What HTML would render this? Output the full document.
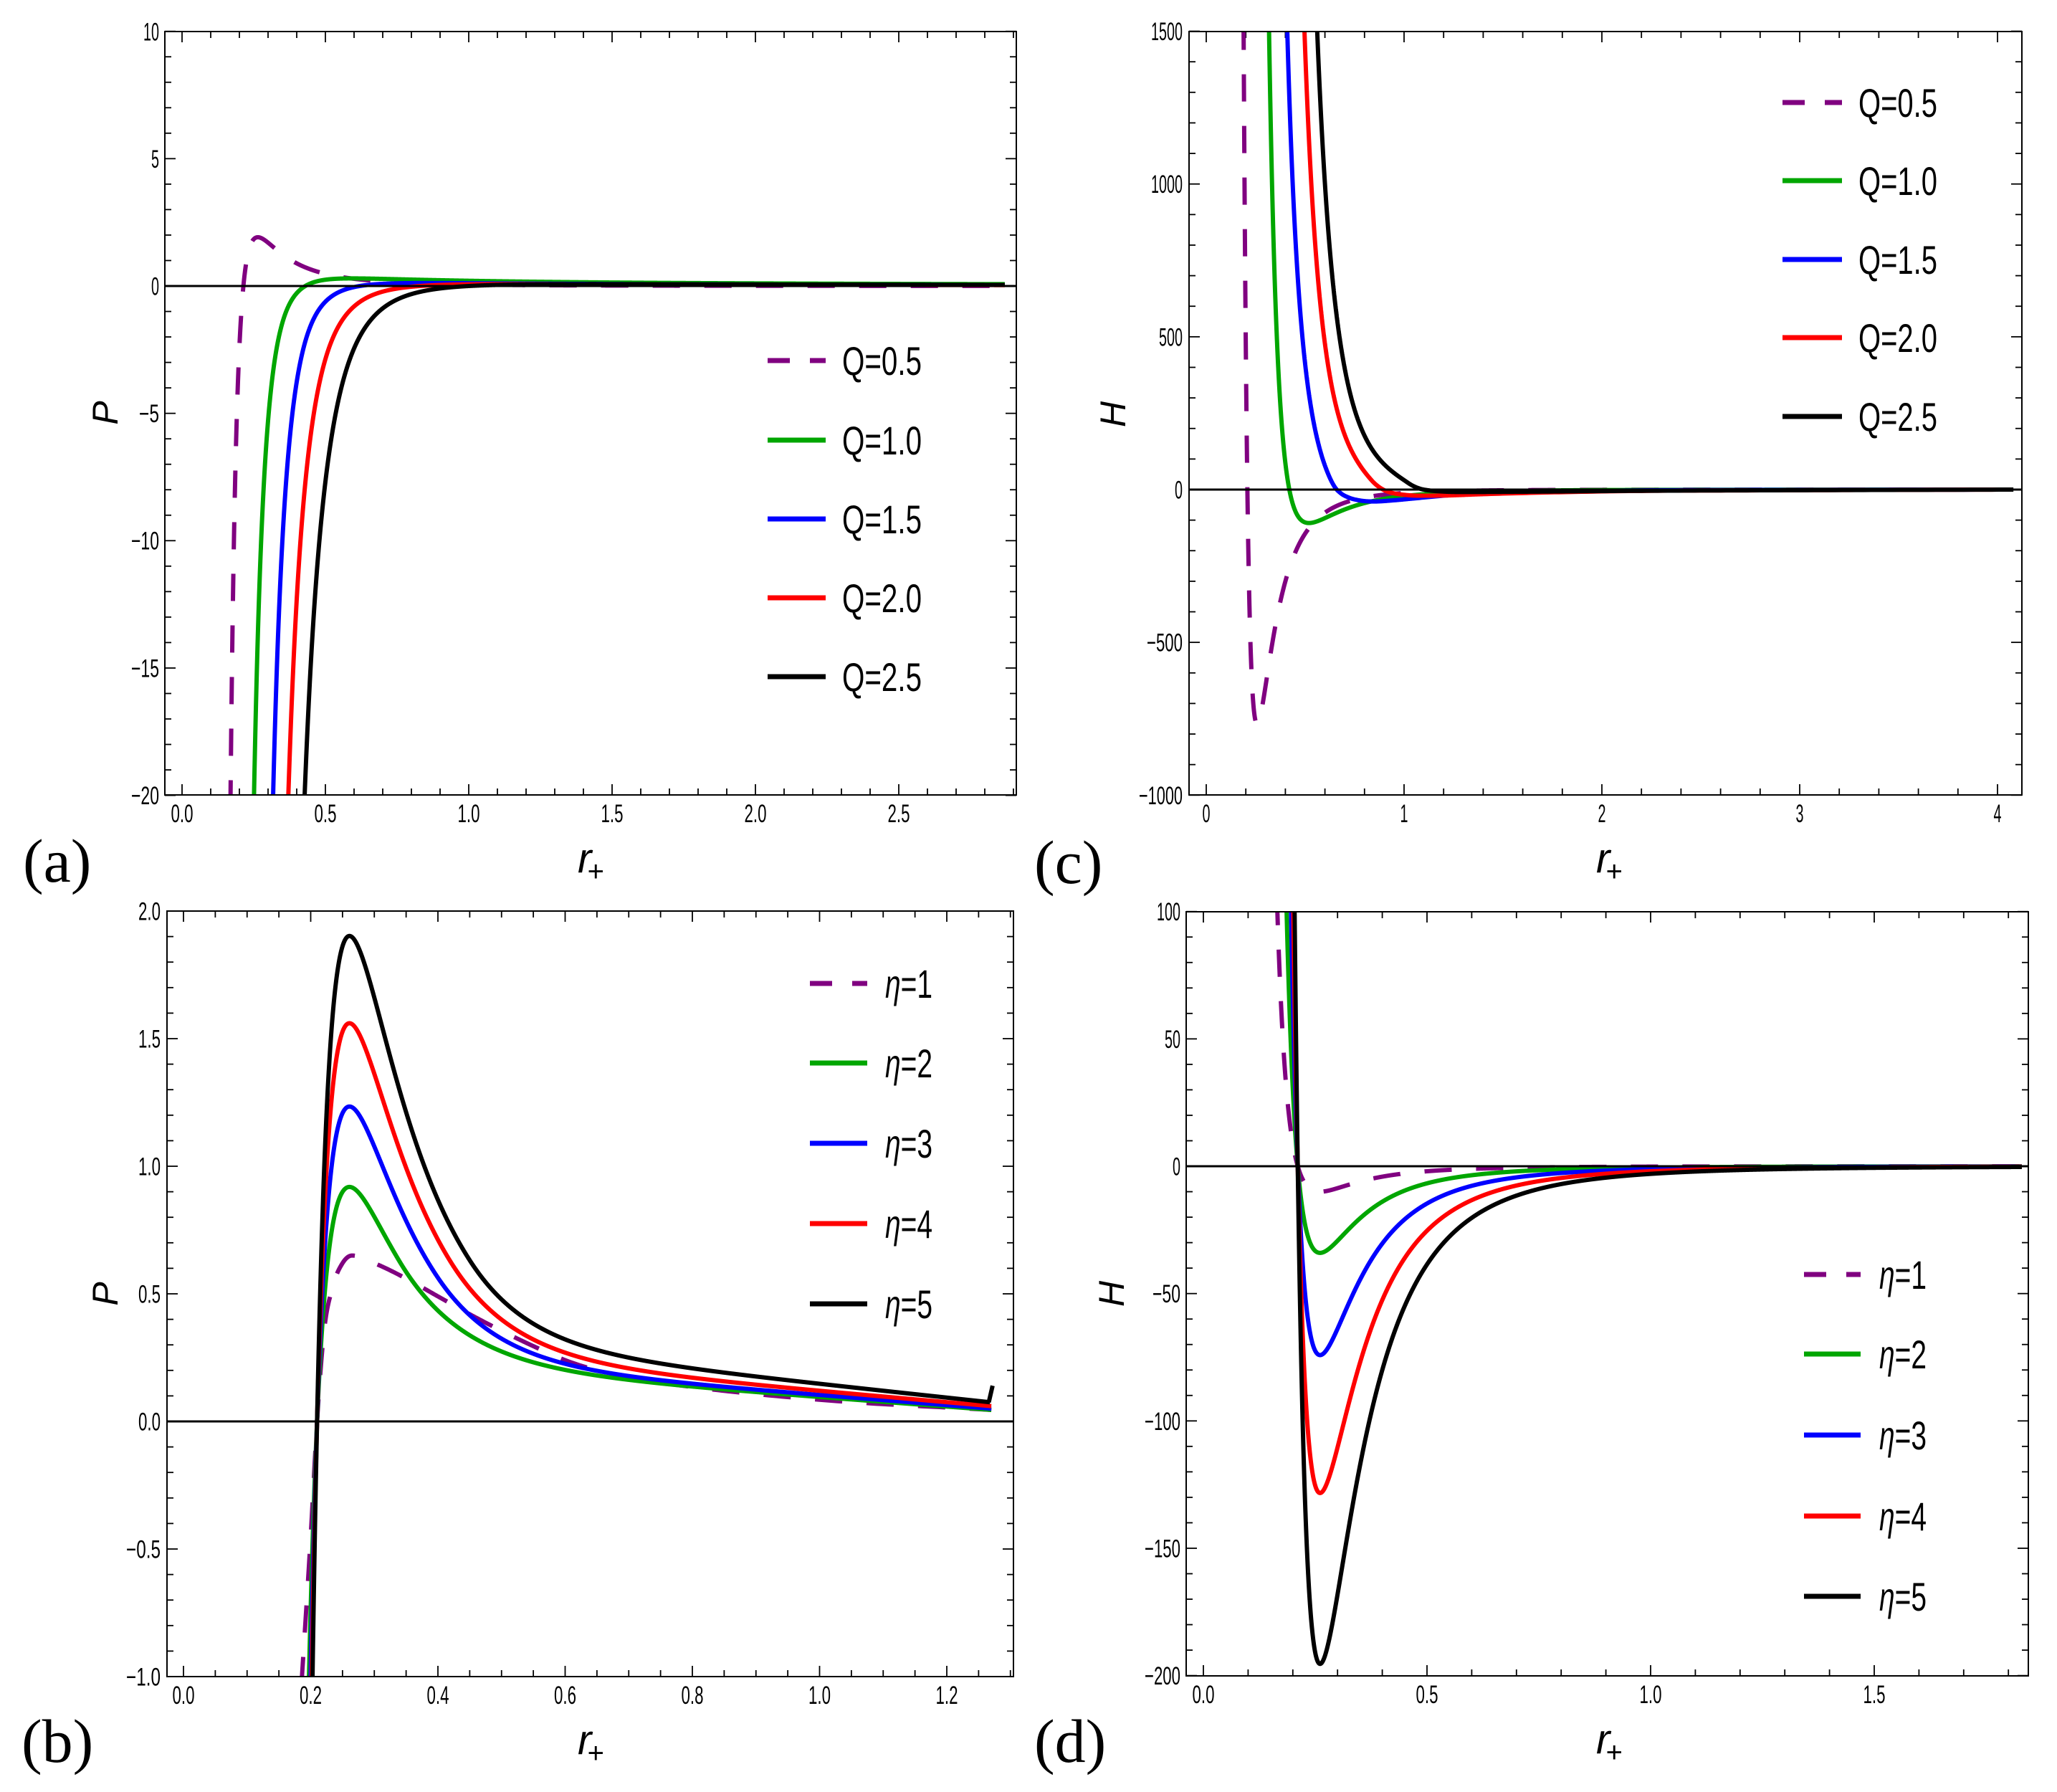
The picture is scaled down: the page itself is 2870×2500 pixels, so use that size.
<!DOCTYPE html>
<html><head><meta charset="utf-8">
<style>
html,body{margin:0;padding:0;background:#fff;width:2870px;height:2500px;overflow:hidden;}
svg{display:block;position:absolute;left:0;top:0;}
.t{font-family:"Liberation Sans",Arial,sans-serif;font-size:35px;fill:#000;}
.lg{font-family:"Liberation Sans",Arial,sans-serif;font-size:56px;fill:#000;}
.ax{font-family:"Liberation Sans",Arial,sans-serif;font-size:50px;font-style:italic;fill:#000;}
.pl{font-family:"Liberation Serif","Times New Roman",serif;font-size:86px;fill:#000;}
.r{font-family:"Liberation Sans",Arial,sans-serif;font-style:italic;fill:#000;}
</style>
</head><body>
<svg id="s" width="2870" height="2500" viewBox="0 0 2870 2500" xmlns="http://www.w3.org/2000/svg">
<rect width="2870" height="2500" fill="#fff"/>
<defs>
<clipPath id="ca"><rect x="230" y="44" width="1188" height="1065"/></clipPath>
<clipPath id="cc"><rect x="1659" y="44" width="1162" height="1065"/></clipPath>
<clipPath id="cb"><rect x="233" y="1271" width="1181" height="1068"/></clipPath>
<clipPath id="cd"><rect x="1655" y="1272" width="1175" height="1066"/></clipPath>
</defs>
<g id="ticks" stroke="#000" stroke-width="1.8"></g>
<g id="curves"></g>
<!-- zero lines -->
<line x1="230" y1="399" x2="1418" y2="399" stroke="#000" stroke-width="3"/>
<line x1="1659" y1="683" x2="2821" y2="683" stroke="#000" stroke-width="3"/>
<line x1="233" y1="1983" x2="1414" y2="1983" stroke="#000" stroke-width="3"/>
<line x1="1655" y1="1627" x2="2830" y2="1627" stroke="#000" stroke-width="3"/>
<!-- frames -->
<g fill="none" stroke="#000" stroke-width="2">
<rect x="230" y="44" width="1188" height="1065"/>
<rect x="1659" y="44" width="1162" height="1065"/>
<rect x="233" y="1271" width="1181" height="1068"/>
<rect x="1655" y="1272" width="1175" height="1066"/>
</g>

<g class="t">
<!-- (a) tick labels -->
<text x="200" y="56.5" textLength="22" lengthAdjust="spacingAndGlyphs">10</text>
<text x="211" y="234" textLength="11" lengthAdjust="spacingAndGlyphs">5</text>
<text x="211" y="411.5" textLength="11" lengthAdjust="spacingAndGlyphs">0</text>
<text x="194" y="589" textLength="28" lengthAdjust="spacingAndGlyphs">−5</text>
<text x="183" y="766.5" textLength="39" lengthAdjust="spacingAndGlyphs">−10</text>
<text x="183" y="944.5" textLength="39" lengthAdjust="spacingAndGlyphs">−15</text>
<text x="183" y="1122" textLength="39" lengthAdjust="spacingAndGlyphs">−20</text>
<text x="238.5" y="1147" textLength="31" lengthAdjust="spacingAndGlyphs">0.0</text>
<text x="438.5" y="1147" textLength="31" lengthAdjust="spacingAndGlyphs">0.5</text>
<text x="638.5" y="1147" textLength="31" lengthAdjust="spacingAndGlyphs">1.0</text>
<text x="838.5" y="1147" textLength="31" lengthAdjust="spacingAndGlyphs">1.5</text>
<text x="1038.5" y="1147" textLength="31" lengthAdjust="spacingAndGlyphs">2.0</text>
<text x="1238.5" y="1147" textLength="31" lengthAdjust="spacingAndGlyphs">2.5</text>

<!-- (c) tick labels -->
<text x="1606" y="56" textLength="44" lengthAdjust="spacingAndGlyphs">1500</text>
<text x="1606" y="269" textLength="44" lengthAdjust="spacingAndGlyphs">1000</text>
<text x="1617" y="482.5" textLength="33" lengthAdjust="spacingAndGlyphs">500</text>
<text x="1639" y="695.5" textLength="11" lengthAdjust="spacingAndGlyphs">0</text>
<text x="1600" y="908.5" textLength="50" lengthAdjust="spacingAndGlyphs">−500</text>
<text x="1589" y="1122" textLength="61" lengthAdjust="spacingAndGlyphs">−1000</text>
<text x="1677.5" y="1147" textLength="11" lengthAdjust="spacingAndGlyphs">0</text>
<text x="1953.5" y="1147" textLength="11" lengthAdjust="spacingAndGlyphs">1</text>
<text x="2229.5" y="1147" textLength="11" lengthAdjust="spacingAndGlyphs">2</text>
<text x="2505.5" y="1147" textLength="11" lengthAdjust="spacingAndGlyphs">3</text>
<text x="2781.5" y="1147" textLength="11" lengthAdjust="spacingAndGlyphs">4</text>

<!-- (b) tick labels -->
<text x="193" y="1283.5" textLength="31" lengthAdjust="spacingAndGlyphs">2.0</text>
<text x="193" y="1461.5" textLength="31" lengthAdjust="spacingAndGlyphs">1.5</text>
<text x="193" y="1639.5" textLength="31" lengthAdjust="spacingAndGlyphs">1.0</text>
<text x="193" y="1817.5" textLength="31" lengthAdjust="spacingAndGlyphs">0.5</text>
<text x="193" y="1995.5" textLength="31" lengthAdjust="spacingAndGlyphs">0.0</text>
<text x="176" y="2173.5" textLength="48" lengthAdjust="spacingAndGlyphs">−0.5</text>
<text x="176" y="2351.5" textLength="48" lengthAdjust="spacingAndGlyphs">−1.0</text>
<text x="240.5" y="2377" textLength="31" lengthAdjust="spacingAndGlyphs">0.0</text>
<text x="418" y="2377" textLength="31" lengthAdjust="spacingAndGlyphs">0.2</text>
<text x="595.5" y="2377" textLength="31" lengthAdjust="spacingAndGlyphs">0.4</text>
<text x="773" y="2377" textLength="31" lengthAdjust="spacingAndGlyphs">0.6</text>
<text x="950.5" y="2377" textLength="31" lengthAdjust="spacingAndGlyphs">0.8</text>
<text x="1128" y="2377" textLength="31" lengthAdjust="spacingAndGlyphs">1.0</text>
<text x="1305.5" y="2377" textLength="31" lengthAdjust="spacingAndGlyphs">1.2</text>

<!-- (d) tick labels -->
<text x="1614" y="1284" textLength="33" lengthAdjust="spacingAndGlyphs">100</text>
<text x="1625" y="1462" textLength="22" lengthAdjust="spacingAndGlyphs">50</text>
<text x="1636" y="1639.5" textLength="11" lengthAdjust="spacingAndGlyphs">0</text>
<text x="1608" y="1817" textLength="39" lengthAdjust="spacingAndGlyphs">−50</text>
<text x="1597" y="1995" textLength="50" lengthAdjust="spacingAndGlyphs">−100</text>
<text x="1597" y="2172.5" textLength="50" lengthAdjust="spacingAndGlyphs">−150</text>
<text x="1597" y="2350" textLength="50" lengthAdjust="spacingAndGlyphs">−200</text>
<text x="1663.5" y="2376" textLength="31" lengthAdjust="spacingAndGlyphs">0.0</text>
<text x="1975.5" y="2376" textLength="31" lengthAdjust="spacingAndGlyphs">0.5</text>
<text x="2287.5" y="2376" textLength="31" lengthAdjust="spacingAndGlyphs">1.0</text>
<text x="2599.5" y="2376" textLength="31" lengthAdjust="spacingAndGlyphs">1.5</text>
</g>

<!-- axis labels -->
<text class="ax" transform="translate(146,576) rotate(-90)" x="0" y="18" text-anchor="middle">P</text>
<text class="ax" transform="translate(146,1805) rotate(-90)" x="0" y="18" text-anchor="middle">P</text>
<text class="ax" transform="translate(1552,578) rotate(-90)" x="0" y="18" text-anchor="middle">H</text>
<text class="ax" transform="translate(1550,1805) rotate(-90)" x="0" y="18" text-anchor="middle">H</text>

<text class="r" x="806" y="1217" font-size="58">r</text><text class="r" x="819" y="1229" font-size="40">+</text>
<text class="r" x="2227" y="1217" font-size="58">r</text><text class="r" x="2240" y="1229" font-size="40">+</text>
<text class="r" x="806" y="2447" font-size="58">r</text><text class="r" x="819" y="2459" font-size="40">+</text>
<text class="r" x="2227" y="2446" font-size="58">r</text><text class="r" x="2240" y="2458" font-size="40">+</text>

<!-- panel labels -->
<text class="pl" x="32" y="1230">(a)</text>
<text class="pl" x="1443" y="1232">(c)</text>
<text class="pl" x="30" y="2458">(b)</text>
<text class="pl" x="1443" y="2458">(d)</text>

<!-- legends -->
<g stroke-width="7" fill="none">
<line x1="1071" y1="503" x2="1152" y2="503" stroke="#800080" stroke-dasharray="31 28"/>
<line x1="1071" y1="614" x2="1152" y2="614" stroke="#00a600"/>
<line x1="1071" y1="724" x2="1152" y2="724" stroke="#0000ff"/>
<line x1="1071" y1="834" x2="1152" y2="834" stroke="#ff0000"/>
<line x1="1071" y1="944" x2="1152" y2="944" stroke="#000"/>

<line x1="2487" y1="143" x2="2570" y2="143" stroke="#800080" stroke-dasharray="31 28"/>
<line x1="2487" y1="252" x2="2570" y2="252" stroke="#00a600"/>
<line x1="2487" y1="362" x2="2570" y2="362" stroke="#0000ff"/>
<line x1="2487" y1="471" x2="2570" y2="471" stroke="#ff0000"/>
<line x1="2487" y1="581" x2="2570" y2="581" stroke="#000"/>

<line x1="1130" y1="1372" x2="1210" y2="1372" stroke="#800080" stroke-dasharray="31 28"/>
<line x1="1130" y1="1483" x2="1210" y2="1483" stroke="#00a600"/>
<line x1="1130" y1="1595" x2="1210" y2="1595" stroke="#0000ff"/>
<line x1="1130" y1="1707" x2="1210" y2="1707" stroke="#ff0000"/>
<line x1="1130" y1="1819" x2="1210" y2="1819" stroke="#000"/>

<line x1="2517" y1="1778" x2="2596" y2="1778" stroke="#800080" stroke-dasharray="31 28"/>
<line x1="2517" y1="1889" x2="2596" y2="1889" stroke="#00a600"/>
<line x1="2517" y1="2002" x2="2596" y2="2002" stroke="#0000ff"/>
<line x1="2517" y1="2115" x2="2596" y2="2115" stroke="#ff0000"/>
<line x1="2517" y1="2227" x2="2596" y2="2227" stroke="#000"/>
</g>
<g class="lg">
<text x="1175" y="523" textLength="111" lengthAdjust="spacingAndGlyphs">Q=0.5</text>
<text x="1175" y="634" textLength="111" lengthAdjust="spacingAndGlyphs">Q=1.0</text>
<text x="1175" y="744" textLength="111" lengthAdjust="spacingAndGlyphs">Q=1.5</text>
<text x="1175" y="854" textLength="111" lengthAdjust="spacingAndGlyphs">Q=2.0</text>
<text x="1175" y="964" textLength="111" lengthAdjust="spacingAndGlyphs">Q=2.5</text>

<text x="2593" y="163" textLength="110" lengthAdjust="spacingAndGlyphs">Q=0.5</text>
<text x="2593" y="272" textLength="110" lengthAdjust="spacingAndGlyphs">Q=1.0</text>
<text x="2593" y="382" textLength="110" lengthAdjust="spacingAndGlyphs">Q=1.5</text>
<text x="2593" y="491" textLength="110" lengthAdjust="spacingAndGlyphs">Q=2.0</text>
<text x="2593" y="601" textLength="110" lengthAdjust="spacingAndGlyphs">Q=2.5</text>

<text x="1235" y="1392" textLength="66" lengthAdjust="spacingAndGlyphs"><tspan font-style="italic">η</tspan>=1</text>
<text x="1235" y="1503" textLength="66" lengthAdjust="spacingAndGlyphs"><tspan font-style="italic">η</tspan>=2</text>
<text x="1235" y="1615" textLength="66" lengthAdjust="spacingAndGlyphs"><tspan font-style="italic">η</tspan>=3</text>
<text x="1235" y="1727" textLength="66" lengthAdjust="spacingAndGlyphs"><tspan font-style="italic">η</tspan>=4</text>
<text x="1235" y="1839" textLength="66" lengthAdjust="spacingAndGlyphs"><tspan font-style="italic">η</tspan>=5</text>

<text x="2622" y="1798" textLength="66" lengthAdjust="spacingAndGlyphs"><tspan font-style="italic">η</tspan>=1</text>
<text x="2622" y="1909" textLength="66" lengthAdjust="spacingAndGlyphs"><tspan font-style="italic">η</tspan>=2</text>
<text x="2622" y="2022" textLength="66" lengthAdjust="spacingAndGlyphs"><tspan font-style="italic">η</tspan>=3</text>
<text x="2622" y="2135" textLength="66" lengthAdjust="spacingAndGlyphs"><tspan font-style="italic">η</tspan>=4</text>
<text x="2622" y="2247" textLength="66" lengthAdjust="spacingAndGlyphs"><tspan font-style="italic">η</tspan>=5</text>
</g>
</svg>
<script>
(function(){
var NS='http://www.w3.org/2000/svg';
function el(tag,attrs,parent){var e=document.createElementNS(NS,tag);for(var k in attrs)e.setAttribute(k,attrs[k]);parent.appendChild(e);return e;}
var tg=document.getElementById('ticks');
var cg=document.getElementById('curves');
var P={
 a:{L:230,R:1418,T:44,B:1109,X0:254,sx:400,Y0:399,sy:35.53,xmaj:0.5,xmin:0.1,ymaj:5,ymin:1,clip:'ca'},
 c:{L:1659,R:2821,T:44,B:1109,X0:1683,sx:276,Y0:683,sy:0.4263,xmaj:1,xmin:0.2,ymaj:500,ymin:100,clip:'cc'},
 b:{L:233,R:1414,T:1271,B:2339,X0:256,sx:887.5,Y0:1983,sy:356,xmaj:0.2,xmin:0.05,ymaj:0.5,ymin:0.1,clip:'cb'},
 d:{L:1655,R:2830,T:1272,B:2338,X0:1679,sx:624,Y0:1627,sy:3.553,xmaj:0.5,xmin:0.1,ymaj:50,ymin:10,clip:'cd'}
};
function isMaj(v,m){var q=v/m;return Math.abs(q-Math.round(q))<1e-6;}
for(var key in P){
 var p=P[key];
 var xL=(p.L-p.X0)/p.sx,xR=(p.R-p.X0)/p.sx;
 var i0=Math.ceil(xL/p.xmin-0.02),i1=Math.floor(xR/p.xmin+0.02);
 for(var i=i0;i<=i1;i++){
  var v=i*p.xmin,x=p.X0+v*p.sx,len=isMaj(v,p.xmaj)?15:9;
  el('line',{x1:x,y1:p.B,x2:x,y2:p.B-len},tg);
  el('line',{x1:x,y1:p.T,x2:x,y2:p.T+len},tg);
 }
 var yB=(p.Y0-p.B)/p.sy,yT=(p.Y0-p.T)/p.sy;
 var j0=Math.ceil(yB/p.ymin-0.02),j1=Math.floor(yT/p.ymin+0.02);
 for(var j=j0;j<=j1;j++){
  var w=j*p.ymin,y=p.Y0-w*p.sy,ln=isMaj(w,p.ymaj)?15:9;
  el('line',{x1:p.L,y1:y,x2:p.L+ln,y2:y},tg);
  el('line',{x1:p.R,y1:y,x2:p.R-ln,y2:y},tg);
 }
}
function clampY(y,p){if(!isFinite(y))return y>0?p.B+10:p.T-10;return Math.max(p.T-10,Math.min(p.B+10,y));}
function clampX(x,p){return Math.max(p.L-10,Math.min(p.R+10,x));}
function fpath(p,f,r0,r1,N){
 var d='';
 for(var i=0;i<=N;i++){
  var r=r0+(r1-r0)*i/N;
  var x=clampX(p.X0+r*p.sx,p),y=clampY(p.Y0-f(r)*p.sy,p);
  d+=(i?'L':'M')+x.toFixed(2)+' '+y.toFixed(2);
 }
 return d;
}
function gen(f,r0,r1,step){
 var out=[];var n=Math.round((r1-r0)/step);
 for(var i=0;i<=n;i++){var r=r0+i*step;out.push([r,f(r)]);}
 return out;
}
// smooth cubic Hermite interpolation (three-point slopes, limited)
function splinePath(p,pts,seg){
 seg=seg||30;
 var n=pts.length,xs=[],ys=[],h=[],dl=[],m=[];
 for(var i=0;i<n;i++){xs.push(pts[i][0]);ys.push(pts[i][1]);}
 for(var i=0;i<n-1;i++){h.push(xs[i+1]-xs[i]);dl.push((ys[i+1]-ys[i])/h[i]);}
 m[0]=dl[0];m[n-1]=dl[n-2];
 for(var k=1;k<n-1;k++){
  if(dl[k-1]*dl[k]<=0){m[k]=0;}
  else{
   var s=(h[k]*dl[k-1]+h[k-1]*dl[k])/(h[k-1]+h[k]);
   var lim=3*Math.min(Math.abs(dl[k-1]),Math.abs(dl[k]));
   if(Math.abs(s)>lim)s=(s>0?1:-1)*lim;
   m[k]=s;
  }
 }
 var d='';
 for(var i=0;i<n-1;i++){
  for(var j=(i?1:0);j<=seg;j++){
   var t=j/seg,hh=h[i];
   var h00=2*t*t*t-3*t*t+1,h10=t*t*t-2*t*t+t,h01=-2*t*t*t+3*t*t,h11=t*t*t-t*t;
   var yv=h00*ys[i]+h10*hh*m[i]+h01*ys[i+1]+h11*hh*m[i+1];
   var xv=xs[i]+t*hh;
   var X=clampX(p.X0+xv*p.sx,p),Y=clampY(p.Y0-yv*p.sy,p);
   d+=(d?'L':'M')+X.toFixed(2)+' '+Y.toFixed(2);
  }
 }
 return d;
}
var COL={pu:'#800080',gr:'#00a600',bl:'#0000ff',re:'#ff0000',bk:'#000000'};
function draw(p,d,col,dash){
 var g=el('g',{'clip-path':'url(#'+p.clip+')'},cg);
 var a={d:d,fill:'none',stroke:col,'stroke-width':6,'stroke-linejoin':'round'};
 if(dash)a['stroke-dasharray']='38 34';
 el('path',a,g);
}
// Panel (a): P = b r^-k (1-(r0/r)^m)
function fa(b,k,m,r0){return function(r){return b*Math.pow(r,-k)*(1-Math.pow(r0/r,m));};}
var pa=P.a;
draw(pa,fpath(pa,fa(0.062,3,4,0.214),0.15,2.87,5000),COL.pu,true);
draw(pa,fpath(pa,fa(0.207,1,6,0.43),0.22,2.87,5000),COL.gr);
draw(pa,fpath(pa,fa(0.117,1,6,0.62),0.28,2.87,5000),COL.bl);
draw(pa,fpath(pa,fa(0.105,1,5.3,0.83),0.33,2.87,5000),COL.re);
draw(pa,fpath(pa,fa(0.124,1,5,1.0),0.38,2.87,5000),COL.bk);
// H form
function fh(a,r0){return function(r){return a*Math.pow(r,-4)*(Math.pow(r0/r,1.5)-1);};}
// power with suppression
function fc(C,r0,s){return function(r){return C*Math.pow(r,-6)*(1-Math.pow(r/r0,s));};}
// Panel (c)
var pc=P.c;
draw(pc,fpath(pc,fh(12.3,0.208),0.18,4.08,6000),COL.pu,true);
draw(pc,fpath(pc,fh(29.2,0.42),0.30,4.08,6000),COL.gr);
draw(pc,splinePath(pc,gen(fc(7.256,0.655,8),0.395,0.62,0.005).concat([[0.65,8],[0.68,-12],[0.72,-26],[0.78,-36],[0.85,-39],[0.95,-35],[1.05,-29],[1.2,-20],[1.5,-10],[2.0,-4],[3.0,-1],[4.07,0]])),COL.bl);
draw(pc,splinePath(pc,gen(fc(22.5,0.88,12),0.48,0.84,0.005).concat([[0.87,10],[0.9,-2],[0.94,-11],[1.0,-17],[1.08,-20],[1.2,-19.5],[1.4,-15],[2.0,-6],[3.0,-2],[4.07,0]])),COL.re);
draw(pc,splinePath(pc,gen(fc(46.7,1.07,16),0.545,1.0,0.005).concat([[1.04,14],[1.08,3],[1.13,-3],[1.2,-6.5],[1.3,-8],[1.6,-7],[2.2,-4],[3.0,-2],[4.08,0]])),COL.bk);
// Panel (b): hump formula + smooth exponential blend into a linear tail
var pb=P.b;
var K=Math.pow(0.21,3.7);
function g0(r){return Math.pow(r,-3)*(1-Math.pow(0.21/r,3.7));}
function g1(r){return -3*Math.pow(r,-4)+6.7*K*Math.pow(r,-7.7);}
function fb(A,rs,a,b){
 var Ps=A*g0(rs),Ds=A*g1(rs),E=Ps-(a-b*rs),lam=-E/(Ds+b);
 return function(r){
  if(r<=rs)return A*g0(r);
  return (a-b*r)+E*Math.exp(-(r-rs)/lam);
 };
}
draw(pb,splinePath(pb,[[0.185,-1.05],[0.2,-0.45],[0.21,0],[0.22,0.33],[0.235,0.53],[0.25,0.62],[0.265,0.65],[0.3,0.62],[0.35,0.56],[0.4,0.49],[0.45,0.42],[0.5,0.355],[0.55,0.295],[0.6,0.24],[0.7,0.172],[0.8,0.135],[1.0,0.085],[1.27,0.045]]),COL.pu,true);
draw(pb,fpath(pb,fb(0.02956,0.34,0.28,0.185),0.19,1.27,4000),COL.gr);
draw(pb,fpath(pb,fb(0.0397,0.40,0.299,0.196),0.19,1.27,4000),COL.bl);
draw(pb,fpath(pb,fb(0.0502,0.42,0.338,0.219),0.19,1.27,4000),COL.re);
draw(pb,fpath(pb,fb(0.0612,0.45,0.4136,0.267),0.19,1.268,4000),COL.bk);
draw(pb,'M'+(pb.X0+1.266*pb.sx)+' '+(pb.Y0-0.075*pb.sy)+'L'+(pb.X0+1.272*pb.sx)+' '+(pb.Y0-0.14*pb.sy),COL.bk);
// Panel (d)
var pd=P.d;
draw(pd,fpath(pd,fh(0.17,0.211),0.15,1.83,5000),COL.pu,true);
draw(pd,fpath(pd,fh(0.578,0.211),0.17,1.83,5000),COL.gr);
draw(pd,fpath(pd,fh(1.26,0.211),0.18,1.83,5000),COL.bl);
draw(pd,fpath(pd,fh(2.18,0.211),0.185,1.83,5000),COL.re);
draw(pd,fpath(pd,fh(3.32,0.211),0.19,1.83,5000),COL.bk);
})();
</script>
</body></html>
